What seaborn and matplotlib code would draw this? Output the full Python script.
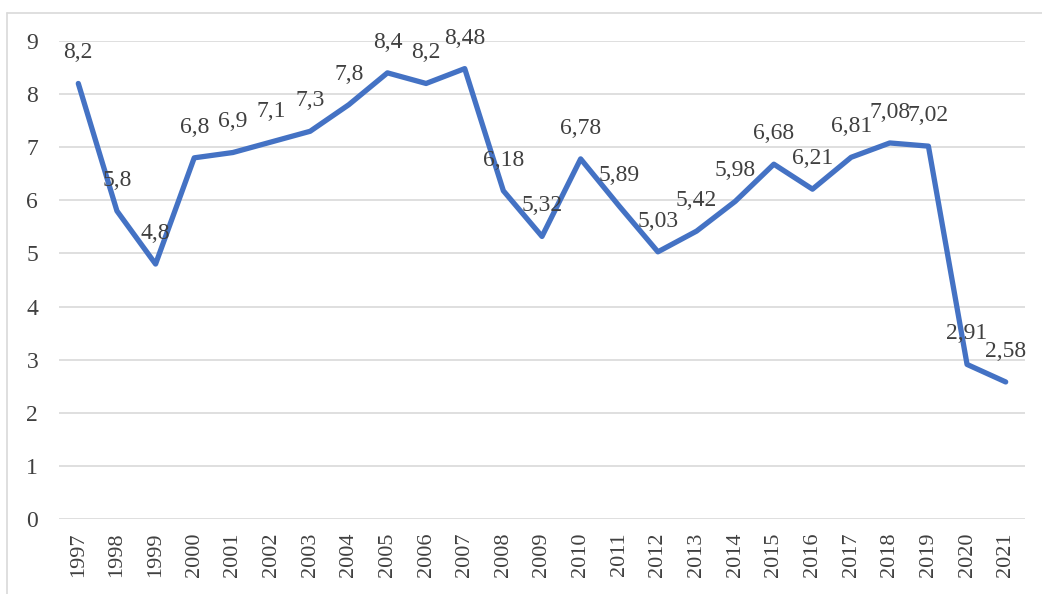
import matplotlib
matplotlib.use("Agg")
import matplotlib.pyplot as plt
import seaborn as sns
import pandas as pd
from matplotlib.lines import Line2D

years = [str(y) for y in range(1997, 2022)]
values = [8.2, 5.8, 4.8, 6.8, 6.9, 7.1, 7.3, 7.8, 8.4, 8.2, 8.48, 6.18, 5.32,
          6.78, 5.89, 5.03, 5.42, 5.98, 6.68, 6.21, 6.81, 7.08, 7.02, 2.91, 2.58]
labels = ["8,2", "5,8", "4,8", "6,8", "6,9", "7,1", "7,3", "7,8", "8,4", "8,2", "8,48",
          "6,18", "5,32", "6,78", "5,89", "5,03", "5,42", "5,98", "6,68", "6,21",
          "6,81", "7,08", "7,02", "2,91", "2,58"]
yticks = [0, 1, 2, 3, 4, 5, 6, 7, 8, 9]

sns.set_theme(style="white")
plt.rcParams['font.family'] = ['Liberation Serif', 'DejaVu Serif']

df = pd.DataFrame({"year": years, "value": values})

fig = plt.figure(figsize=(10.42, 5.94), dpi=100)
ax = fig.add_axes([0.0566, 0.1263, 0.9271, 0.8047])

sns.lineplot(data=df, x="year", y="value", ax=ax, color="#4472C4",
             linewidth=3.8, sort=False)
ax.set_xlim(-0.5, len(years) - 0.5)
ax.set_ylim(0, 9)
ax.set_yticks(yticks)
ax.set_yticklabels([str(t) for t in yticks])
ax.grid(axis="y", color="#D9D9D9", linewidth=1.2)
ax.grid(axis="x", visible=False)
for s in ax.spines.values():
    s.set_visible(False)
ax.set_xlabel("")
ax.set_ylabel("")
ax.tick_params(axis="x", labelrotation=90, labelsize=16, colors="#404040", length=0, pad=10)
ax.tick_params(axis="y", labelsize=17, colors="#404040", length=0, pad=15)

for i, (v, t) in enumerate(zip(values, labels)):
    ax.annotate(t, (i, v), xytext=(0, 22), textcoords="offset points",
                ha="center", va="center", fontsize=17, color="#404040")

fig.add_artist(Line2D([7/1042, 7/1042], [0, 1 - 13/594], transform=fig.transFigure,
                      color="#D9D9D9", linewidth=1.2))
fig.add_artist(Line2D([7/1042, 1], [1 - 13/594, 1 - 13/594], transform=fig.transFigure,
                      color="#D9D9D9", linewidth=1.2))

fig.savefig("out.png", dpi=100)
